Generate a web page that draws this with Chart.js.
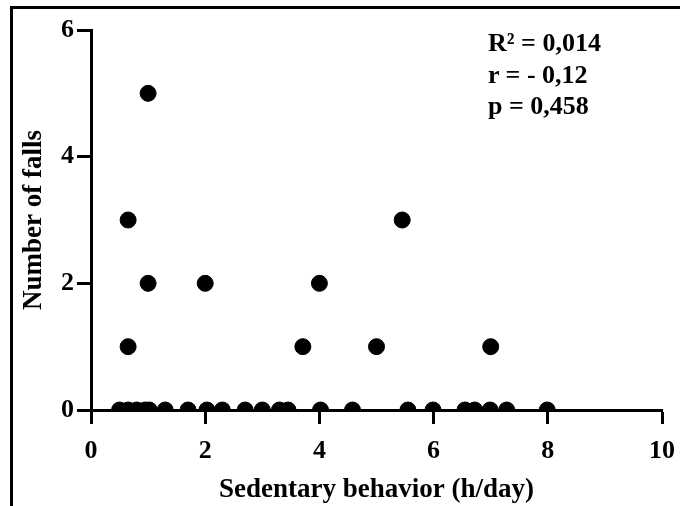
<!DOCTYPE html>
<html>
<head>
<meta charset="utf-8">
<script src="https://cdn.jsdelivr.net/npm/chart.js@4/dist/chart.umd.min.js"></script>
<style>
  html, body { margin: 0; padding: 0; background: #fff; }
  #wrap { position: relative; width: 680px; height: 506px; overflow: hidden; }
  #frame { position: absolute; left: 10px; top: 6px; width: 700px; height: 520px;
           border-left: 3px solid #000; border-top: 3px solid #000; box-sizing: border-box; }
  #stats { position: absolute; left: 488px; top: 27px; font-family: "Liberation Serif", serif;
           font-weight: bold; font-size: 26px; line-height: 31.5px; color: #000; white-space: nowrap; }
</style>
</head>
<body>
<div id="wrap">
  <canvas id="c" width="680" height="506"></canvas>
  <div id="frame"></div>
  <div id="stats">R² = 0,014<br>r = - 0,12<br>p = 0,458</div>
</div>
<script>
const sedentaryHours = [
  0.5, 0.65, 0.8, 0.95, 1.02, 1.3, 1.7, 2.03, 2.3, 2.7, 3.0, 3.3, 3.45, 4.02, 4.58,
  5.55, 5.99, 6.55, 6.72, 6.99, 7.28, 7.99,
  1.0, 0.65, 5.45, 1.0, 2.0, 4.0, 0.65, 3.71, 5.0, 7.0
];
const numberOfFalls = [
  0, 0, 0, 0, 0, 0, 0, 0, 0, 0, 0, 0, 0, 0, 0,
  0, 0, 0, 0, 0, 0, 0,
  5, 3, 3, 2, 2, 2, 1, 1, 1, 1
];
const xTicks = [0, 2, 4, 6, 8, 10];
const yTicks = [0, 2, 4, 6];
const xTitle = 'Sedentary behavior (h/day)';
const yTitle = 'Number of falls';

const points = sedentaryHours.map((x, i) => ({ x: x, y: numberOfFalls[i] }));
const tickFont = { family: '"Liberation Serif", serif', weight: 'bold', size: 26 };
const titleFont = { family: '"Liberation Serif", serif', weight: 'bold', size: 27 };

new Chart(document.getElementById('c'), {
  type: 'scatter',
  data: {
    datasets: [{
      data: points,
      backgroundColor: '#000',
      borderColor: '#000',
      pointRadius: 8,
      pointHoverRadius: 8
    }]
  },
  options: {
    responsive: false,
    animation: false,
    events: [],
    layout: { padding: { left: 14, top: 30, right: 18, bottom: 0 } },
    plugins: { legend: { display: false }, tooltip: { enabled: false } },
    scales: {
      x: {
        type: 'linear', min: 0, max: 10,
        afterBuildTicks: s => { s.ticks = xTicks.map(v => ({ value: v })); },
        afterFit: s => { s.height = 96; s.paddingLeft = 0; s.paddingRight = 0; },
        border: { display: true, color: '#000', width: 3 },
        grid: { drawOnChartArea: false, drawTicks: true, tickLength: 14, tickWidth: 3, tickColor: '#000', color: '#000' },
        ticks: { color: '#000', font: tickFont, padding: 12, maxRotation: 0 },
        title: { display: true, text: xTitle, color: '#000', font: titleFont, padding: { top: 0, bottom: 0 } }
      },
      y: {
        type: 'linear', min: 0, max: 6,
        afterBuildTicks: s => { s.ticks = yTicks.map(v => ({ value: v })); },
        afterFit: s => { s.width = 77; s.paddingTop = 0; s.paddingBottom = 0; },
        border: { display: true, color: '#000', width: 3 },
        grid: { drawOnChartArea: false, drawTicks: true, tickLength: 14, tickWidth: 3, tickColor: '#000', color: '#000' },
        ticks: { color: '#000', font: tickFont, padding: 3 },
        title: { display: true, text: yTitle, color: '#000', font: titleFont, padding: { top: 4, bottom: 0 } }
      }
    }
  }
});
</script>
</body>
</html>
